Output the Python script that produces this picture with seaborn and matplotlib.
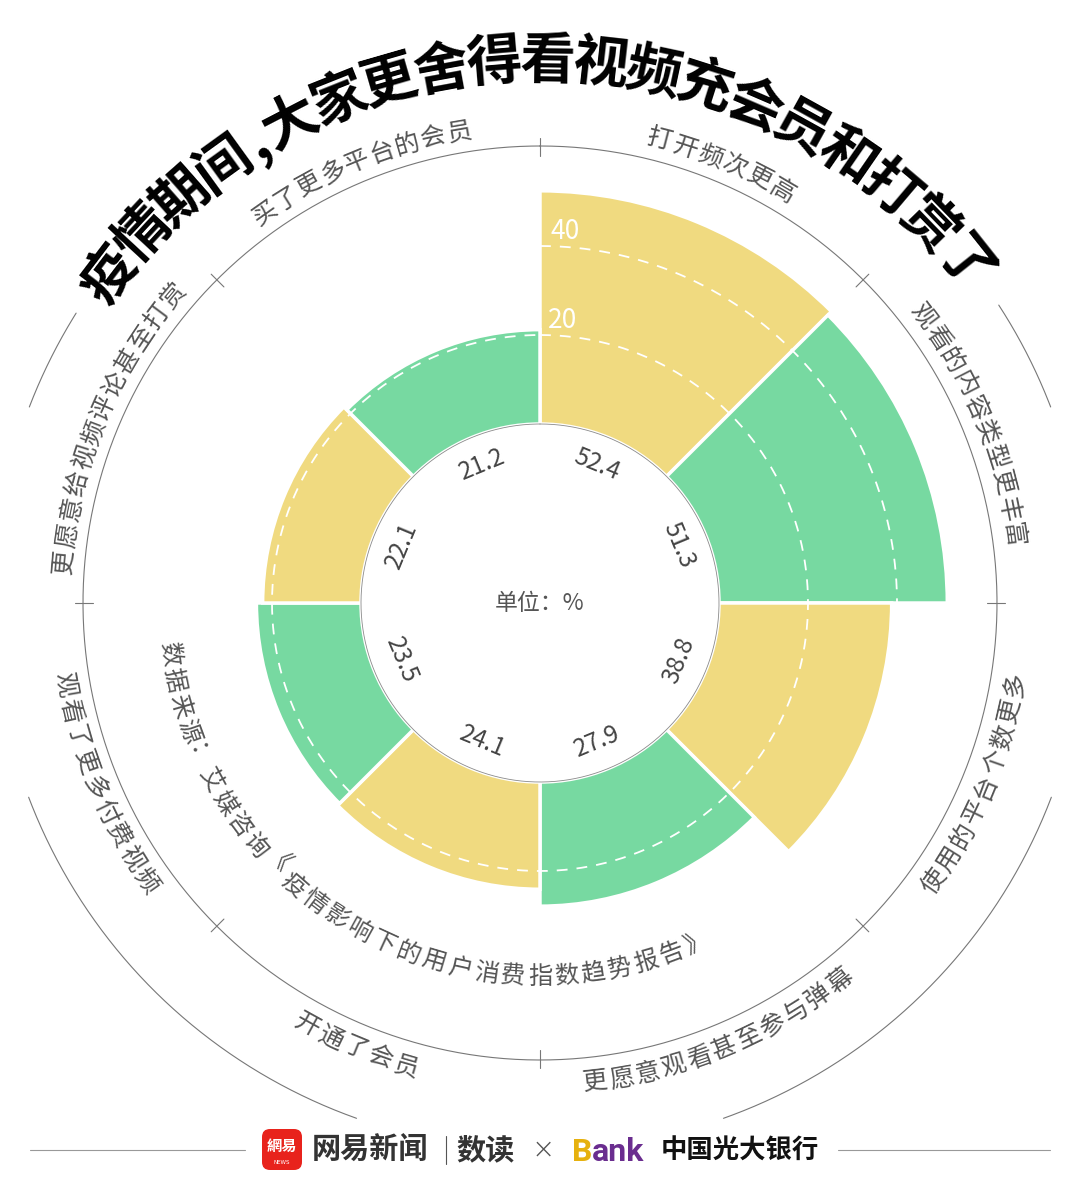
import numpy as np
import matplotlib.pyplot as plt
import seaborn as sns
from matplotlib.patches import FancyBboxPatch

# data
categories = ['打开频次更高', '观看的内容类型更丰富', '使用的平台个数更多', '更愿意观看甚至参与弹幕',
              '开通了会员', '观看了更多付费视频', '更愿意给视频评论甚至打赏', '买了更多平台的会员']
values = [52.4, 51.3, 38.8, 27.9, 24.1, 23.5, 22.1, 21.2]
grid_values = [20, 40]
title = '疫情期间,大家更舍得看视频充会员和打赏了'
source = '数据来源：艾媒咨询《疫情影响下的用户消费指数趋势报告》'
unit_label = '单位：%'

sns.set_theme(style='white')
plt.rcParams['font.family'] = ['Noto Sans CJK SC', 'DejaVu Sans']

YELLOW = '#F0DA80'
GREEN = '#77D9A1'
GRAY = '#555555'

W, H = 1080, 1201
CX, CY = 540, 603      # chart centre in pixels (from top)
K = 4.45               # pixels per percentage point
HOLE = 179 / K         # bars start here
RAX = 600              # polar axes radius in pixels

fig = plt.figure(figsize=(W / 100, H / 100), dpi=100, facecolor='white')
ax = fig.add_axes([(CX - RAX) / W, (H - CY - RAX) / H, 2 * RAX / W, 2 * RAX / H],
                  projection='polar')
ax.set_theta_zero_location('N')
ax.set_theta_direction(-1)
ax.set_ylim(0, RAX / K)
ax.axis('off')

n = len(values)
step = 2 * np.pi / n
theta = np.arange(n) * step + step / 2
colors = [YELLOW if i % 2 == 0 else GREEN for i in range(n)]
ax.bar(theta, values, width=step, bottom=HOLE, color=colors,
       edgecolor='white', linewidth=2.5, zorder=2)

tt = np.linspace(0, 2 * np.pi, 1000)

# dashed grid rings + labels
for g in grid_values:
    ax.plot(tt, np.full_like(tt, HOLE + g), color='white', lw=1.3,
            ls=(0, (6, 5)), zorder=3)
    ax.text(np.deg2rad(1.6), HOLE + g + 1.6, str(g), color='white', fontsize=19,
            ha='left', va='baseline', fontweight='light', zorder=4)

# hole outline, outer ring, ticks, decorative arcs
ax.plot(tt, np.full_like(tt, HOLE), color='#8a8a8a', lw=0.6, zorder=3)
ax.plot(tt, np.full_like(tt, 457 / K), color='#777777', lw=0.8, zorder=1)
for b in np.arange(n) * step:
    ax.plot([b, b], [447 / K, 465 / K], color='#777777', lw=0.8, zorder=1)
for a0, a1 in [(57, 69), (110.8, 160.4), (199.6, 249.2), (291, 302)]:
    aa = np.deg2rad(np.linspace(a0, a1, 200))
    ax.plot(aa, np.full_like(aa, 547 / K), color='#777777', lw=0.8, zorder=1)


def curved(text, phi_c, r_px, size, spacing_px, inward=False, **kw):
    w = np.array([0.5 if ch in ',' else 1.0 for ch in text])
    c = np.cumsum(w) - w / 2 - w.sum() / 2
    em = size * 100 / 72
    sign = -1 if inward else 1
    r_base = r_px + sign * -0.38 * em
    for ch, s in zip(text, c):
        phi = phi_c + sign * np.rad2deg(s * spacing_px / r_px)
        rot = 180 - phi if inward else -phi
        ax.text(np.deg2rad(phi), r_base / K, ch, rotation=rot, rotation_mode='anchor',
                ha='center', va='baseline', fontsize=size, **kw)


# value labels inside the hole
for th, v in zip(theta, values):
    phi = np.rad2deg(th)
    rot = 180 - phi if 90 < phi < 270 else -phi
    ax.text(th, 150 / K, f'{v}', rotation=rot, rotation_mode='anchor',
            ha='center', va='center', fontsize=17.5, color='#444444', zorder=5)

ax.text(0, 0, unit_label, ha='center', va='center', fontsize=16.5, color=GRAY, zorder=5)

# category labels around the ring
for th, lab in zip(theta, categories):
    phi = np.rad2deg(th)
    curved(lab, phi, 480, 18, 26.7, inward=90 < phi < 270,
           color=GRAY, fontweight='light')

# source text
curved(source, 208.8, 372, 17.5, 26.7, inward=True, color=GRAY, fontweight='light')

# curved title
curved(title, -0.6, 546, 40, 53.7, color='black', fontweight='heavy')

# footer
fx = fig.add_axes([0, 0, 1, 1])
fx.set_xlim(0, W)
fx.set_ylim(H, 0)
fx.axis('off')
fx.plot([30, 245], [1150, 1150], color='#999999', lw=0.8)
fx.plot([838, 1050], [1150, 1150], color='#999999', lw=0.8)
fx.add_patch(FancyBboxPatch((262, 1129), 40, 41, boxstyle='round,pad=0,rounding_size=8',
                            facecolor='#E8231C', edgecolor='none'))
fx.text(282, 1146, '網易', color='white', fontsize=11, fontweight='bold',
        ha='center', va='center')
fx.text(282, 1162, 'NEWS', color='white', fontsize=4, ha='center', va='center',
        family='DejaVu Sans')
fx.text(312, 1150, '网易新闻', color='#333333', fontsize=21, fontweight='bold',
        ha='left', va='center')
fx.plot([446, 446], [1136, 1164], color='#555555', lw=0.8)
fx.text(456, 1150, '数读', color='#333333', fontsize=21, fontweight='bold',
        ha='left', va='center')
fx.text(543, 1150, '×', color='#555555', fontsize=20, ha='center', va='center',
        family='DejaVu Sans', fontweight='light')
fx.text(572, 1152, 'B', color='#E6B10E', fontsize=23, fontweight='bold',
        ha='left', va='center', family='Roboto')
fx.text(592, 1152, 'ank', color='#6A2D8F', fontsize=23, fontweight='bold',
        ha='left', va='center', family='Roboto')
fx.text(661, 1151, '中国光大银行', color='#111111', fontsize=19, fontweight='bold',
        ha='left', va='center')

fig.savefig('out.png', dpi=100, facecolor='white')
